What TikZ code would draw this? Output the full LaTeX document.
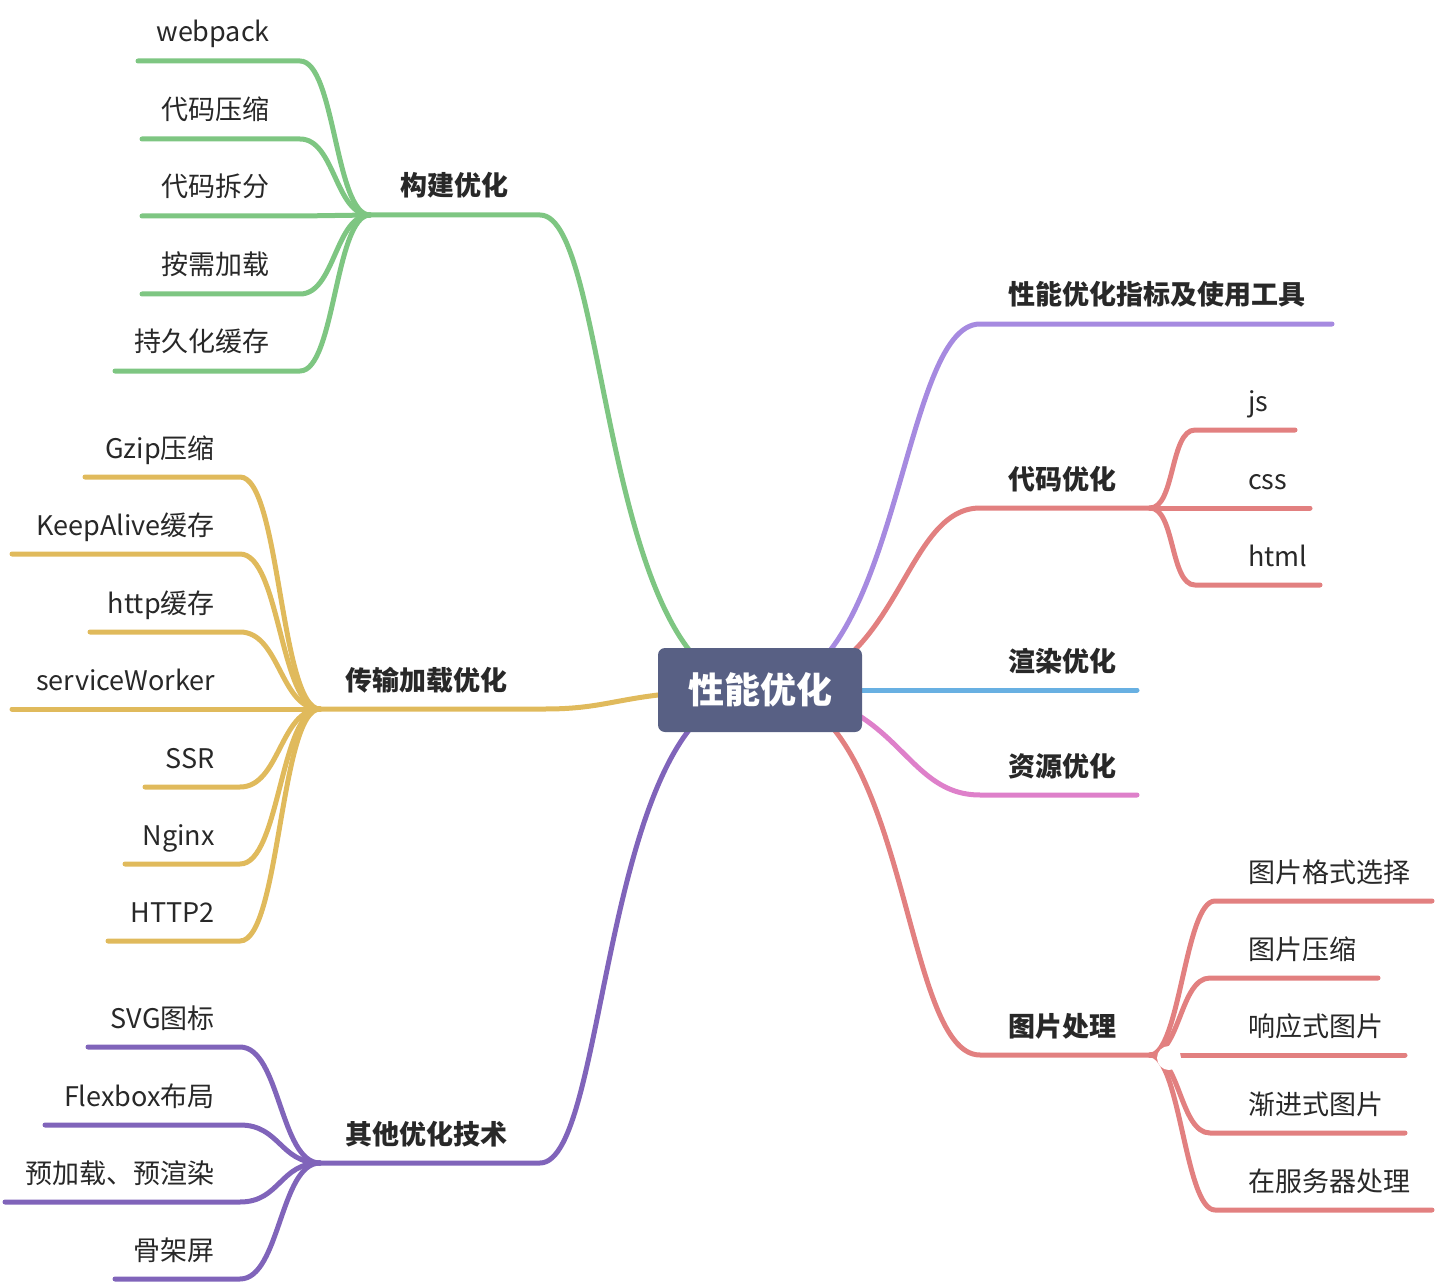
\documentclass[tikz,border=0pt]{standalone}
\usepackage{fontspec}
\setmainfont{Noto Sans CJK SC}
\usetikzlibrary{backgrounds}

\definecolor{cgreen}{RGB}{126,198,130}
\definecolor{cyellow}{RGB}{224,186,92}
\definecolor{cpurple}{RGB}{128,100,186}
\definecolor{clilac}{RGB}{166,138,224}
\definecolor{cred}{RGB}{226,128,128}
\definecolor{cblue}{RGB}{104,176,226}
\definecolor{cpink}{RGB}{222,128,202}
\definecolor{croot}{RGB}{88,96,132}
\definecolor{ctext}{RGB}{40,40,40}

\begin{document}
\begin{tikzpicture}[x=1pt,y=-1pt,
  branch/.style={line width=5pt,line cap=round},
  leaf/.style={font=\fontsize{27}{32}\selectfont,text=ctext,inner sep=0pt},
  topic/.style={font=\fontsize{27}{32}\selectfont\bfseries,text=ctext,inner sep=0pt},
  rootbox/.style={fill=croot,rounded corners=7pt,minimum width=204pt,minimum height=84pt,
    text=white,font=\fontsize{36}{40}\selectfont\bfseries}
]
\useasboundingbox (0,0) rectangle (1436,1284);

\node[rootbox] (root) at (760,690) {性能优化};

% main topics
\coordinate (gj-l) at (370,215);   \coordinate (gj-r) at (540,215);
\coordinate (cs-l) at (320,709);   \coordinate (cs-r) at (545,709);
\coordinate (qt-l) at (320,1163);  \coordinate (qt-r) at (540,1163);
\coordinate (zb-l) at (980,324);   \coordinate (zb-r) at (1332,324);
\coordinate (dm-l) at (980,508);   \coordinate (dm-r) at (1150,508);
\coordinate (xr-r) at (1137,690);
\coordinate (zy-l) at (980,795);   \coordinate (zy-r) at (1137,795);
\coordinate (tp-l) at (980,1055);  \coordinate (tp-r) at (1150,1055);

\node[topic,anchor=base west] (gj) at (400,196) {构建优化};
\node[topic,anchor=base west] (cs) at (345,690) {传输加载优化};
\node[topic,anchor=base west] (qt) at (345,1144) {其他优化技术};
\node[topic,anchor=base west] (zb) at (1008,305) {性能优化指标及使用工具};
\node[topic,anchor=base west] (dm) at (1008,489) {代码优化};
\node[topic,anchor=base west] (xr) at (1008,671) {渲染优化};
\node[topic,anchor=base west] (zy) at (1008,776) {资源优化};
\node[topic,anchor=base west] (tp) at (1008,1036) {图片处理};

\begin{scope}[on background layer]
\draw[branch,cgreen] (root.center) .. controls +(-160,0) and +(70,0) .. (gj-r) -- (gj-l);
\draw[branch,cyellow] (root.center) .. controls +(-140,0) and +(75,0) .. (cs-r) -- (cs-l);
\draw[branch,cpurple] (root.center) .. controls +(-160,0) and +(70,0) .. (qt-r) -- (qt-l);
\draw[branch,clilac] (root.center) .. controls +(140,0) and +(-80,0) .. (zb-l) -- (zb-r);
\draw[branch,cred] (root.center) .. controls +(140,0) and +(-80,0) .. (dm-l) -- (dm-r);
\draw[branch,cblue] (root.center) -- (xr-r);
\draw[branch,cpink] (root.center) .. controls +(140,0) and +(-80,0) .. (zy-l) -- (zy-r);
\draw[branch,cred] (root.center) .. controls +(150,0) and +(-80,0) .. (tp-l) -- (tp-r);
\end{scope}

% 构建优化
\foreach \id/\yy/\xl/\txt in {gj1/61/138/webpack,gj2/139/142/代码压缩,gj3/216/142/代码拆分,
    gj4/294/142/按需加载,gj5/371/115/持久化缓存}{
  \coordinate (\id-a) at (300,\yy);
  \coordinate (\id-b) at (\xl,\yy);
  \node[leaf,anchor=base east] (\id) at (270,\yy-19) {\txt};
  \draw[branch,cgreen] (gj-l) .. controls +(-35,0) and +(35,0) .. (\id-a) -- (\id-b);
}

% 传输加载优化
\foreach \id/\yy/\xl/\txt in {cs1/477/85/Gzip压缩,cs2/554/12/KeepAlive缓存,cs3/632/90/http缓存,
    cs4/709/12/serviceWorker,cs5/787/145/SSR,cs6/864/125/Nginx,cs7/941/108/HTTP2}{
  \coordinate (\id-a) at (240,\yy);
  \coordinate (\id-b) at (\xl,\yy);
  \node[leaf,anchor=base east] (\id) at (215,\yy-19) {\txt};
  \draw[branch,cyellow] (cs-l) .. controls +(-40,0) and +(40,0) .. (\id-a) -- (\id-b);
}

% 其他优化技术
\foreach \id/\yy/\xl/\txt in {qt1/1047/88/SVG图标,qt2/1125/45/Flexbox布局,
    qt3/1202/5/预加载、预渲染,qt4/1279/115/骨架屏}{
  \coordinate (\id-a) at (240,\yy);
  \coordinate (\id-b) at (\xl,\yy);
  \node[leaf,anchor=base east] (\id) at (215,\yy-19) {\txt};
  \draw[branch,cpurple] (qt-l) .. controls +(-40,0) and +(40,0) .. (\id-a) -- (\id-b);
}

% 代码优化
\foreach \id/\yy/\xa/\xr/\txt in {dm1/430/1195/1295/js,dm2/508/1180/1310/css,dm3/585/1195/1320/html}{
  \coordinate (\id-a) at (\xa,\yy);
  \coordinate (\id-b) at (\xr,\yy);
  \node[leaf,anchor=base west] (\id) at (1248,\yy-19) {\txt};
  \draw[branch,cred] (dm-r) .. controls +(25,0) and +(-25,0) .. (\id-a) -- (\id-b);
}

% 图片处理
\foreach \id/\yy/\xa/\xr/\txt in {tp1/901/1215/1432/图片格式选择,tp2/978/1210/1378/图片压缩,
    tp3/1055/1185/1405/响应式图片,tp4/1133/1210/1405/渐进式图片,tp5/1210/1215/1432/在服务器处理}{
  \coordinate (\id-a) at (\xa,\yy);
  \coordinate (\id-b) at (\xr,\yy);
  \node[leaf,anchor=base west] (\id) at (1248,\yy-19) {\txt};
  \draw[branch,cred] (tp-r) .. controls +(30,0) and +(-30,0) .. (\id-a) -- (\id-b);
}
\fill[white] (1169,1058) circle (12);

\end{tikzpicture}
\end{document}
